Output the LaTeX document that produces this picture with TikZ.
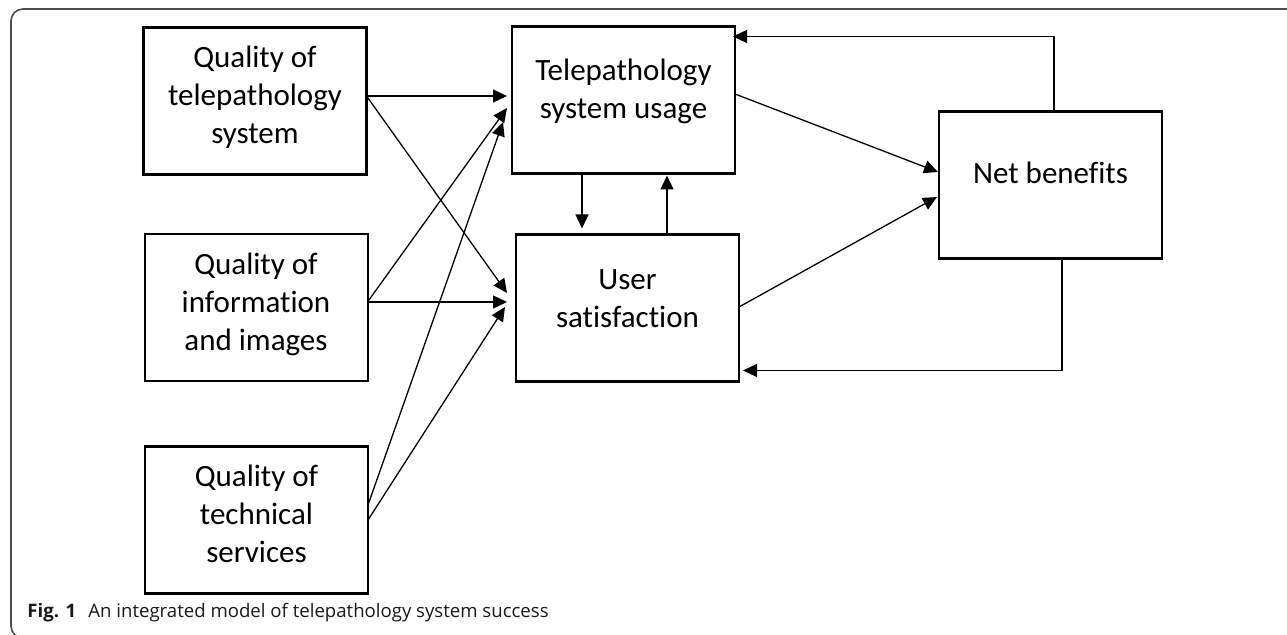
\documentclass[tikz,border=0pt]{standalone}
\usepackage{fontspec}
\setmainfont{Carlito}[Ligatures=NoCommon]
\newfontfamily\capfont{Open Sans}
\usetikzlibrary{arrows.meta,calc}
\begin{document}
\begin{tikzpicture}[x=0.5pt,y=-0.5pt,
  box/.style={draw=black, line width=1.2pt, minimum width=111.5pt, minimum height=73.5pt, inner sep=0pt, outer sep=0pt},
  lbl/.style={font=\fontsize{15.5}{19}\selectfont, align=center, inner sep=0pt},
  conn/.style={draw=black, line width=0.65pt, -{Triangle[length=7pt,width=6.5pt]}},
  frame/.style={draw=black!70, line width=0.8pt, rounded corners=6pt},
  captxt/.style={anchor=base west, inner sep=0pt, text=black!90}
  ]
\useasboundingbox (0,0) rectangle (1287,635);
\clip (0,0) rectangle (1287,635);
\draw[frame] (11,9) rectangle (1300,638);

% boxes
\node[box, line width=1.5pt] (q1) at (255,101.5) {};
\node[box, line width=1.0pt] (q2) at (256,308) {};
\node[box] (q3) at (256.5,520) {};
\node[box, line width=1.4pt] (u) at (623.5,100) {};
\node[box, line width=1.3pt] (s) at (627.5,308) {};
\node[box] (n) at (1050.5,185) {};

% labels
\node[lbl] (q1t) at ($(q1.center)+(0,-4)$) {Quality of\\telepathology\\system};
\node[lbl] (q2t) at ($(q2.center)+(0,-4)$) {Quality of\\information\\and images};
\node[lbl] (q3t) at ($(q3.center)+(0,-6)$) {Quality of\\technical\\services};
\node[lbl] (ut) at ($(u.center)+(0,-9)$) {Telepathology\\system usage};
\node[lbl] (st) at ($(s.center)+(0,-9)$) {User\\satisfaction};
\node[lbl] (nt) at ($(n.center)+(0,-12)$) {Net benefits};

% connectors
\draw[conn] ($(q1.east)+(0,-5.5)$) -- ($(u.west)+(-5,-4)$);
\draw[conn] ($(q1.east)+(0,-5.5)$) -- ($(s.west)+(-9,-15)$);
\draw[conn] ($(q2.east)+(0,-6)$) -- ($(u.west)+(-5,8)$);
\draw[conn] ($(q2.east)+(0,-6)$) -- ($(s.west)+(-9,-6)$);
\draw[conn] ($(q3.east)+(0,-15)$) -- ($(u.west)+(-9,22)$);
\draw[conn] (q3.east) -- ($(s.west)+(-11,-1)$);
\draw[conn] ($(u.south)+(-41.5,0)$) -- ($(s.north)+(-45.5,-6)$);
\draw[conn] ($(s.north)+(39.5,0)$) -- ($(u.south)+(43.5,2)$);
\draw[conn] ($(u.east)+(0,-6)$) -- ($(n.west)+(-1,-13)$);
\draw[conn] ($(s.east)+(0,-1)$) -- ($(n.west)+(-2,12)$);
\draw[conn] ($(n.north)+(3.5,0)$) |- ($(u.north east)+(-2,10)$);
\draw[conn] ($(n.south)+(11.5,0)$) |- ($(s.south east)+(4,-11)$);

% caption
\node[captxt, font=\capfont\bfseries\fontsize{9.3}{11}\selectfont] (fig) at (27,618) {Fig. 1};
\node[captxt, font=\capfont\fontsize{9.3}{11}\selectfont] (cap) at (88,618) {An integrated model of telepathology system success};
\end{tikzpicture}
\end{document}
